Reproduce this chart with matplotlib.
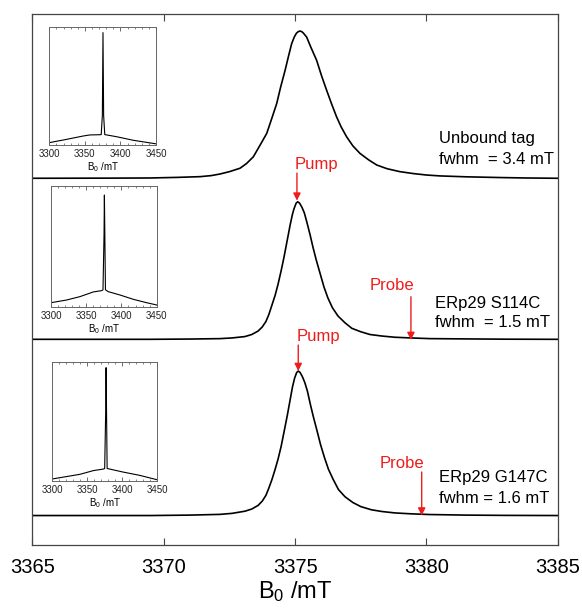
import matplotlib
matplotlib.use('Agg')
import matplotlib.pyplot as plt
from matplotlib.ticker import MultipleLocator

plt.rcParams['font.family'] = ['Liberation Sans', 'DejaVu Sans']
plt.rcParams['mathtext.fontset'] = 'custom'
plt.rcParams['mathtext.rm'] = 'Liberation Sans'
plt.rcParams['mathtext.default'] = 'regular'

# main spectra, field in mT, intensity normalised to peak = 1
top_b = [3365.0, 3368.0, 3369.47, 3370.5, 3371.38, 3371.8, 3372.14, 3372.5, 3372.90, 3373.15,
         3373.41, 3373.65, 3373.92, 3374.1, 3374.30, 3374.45, 3374.62, 3374.75, 3374.87, 3374.97,
         3375.05, 3375.12, 3375.19, 3375.26, 3375.32, 3375.44, 3375.6, 3375.82, 3376.0, 3376.20,
         3376.4, 3376.58, 3376.75, 3376.96, 3377.2, 3377.47, 3377.8, 3378.11, 3378.5, 3378.99,
         3379.5, 3380.01, 3380.52, 3381.5, 3382.8, 3383.8, 3385.0]
top_i = [0.0, 0.001, 0.002, 0.006, 0.011, 0.018, 0.029, 0.045, 0.068, 0.10,
         0.146, 0.22, 0.305, 0.40, 0.508, 0.62, 0.734, 0.83, 0.915, 0.96,
         0.985, 0.996, 1.0, 0.995, 0.985, 0.959, 0.89, 0.801, 0.70, 0.598,
         0.50, 0.417, 0.35, 0.282, 0.22, 0.169, 0.125, 0.090, 0.065, 0.045,
         0.032, 0.022, 0.016, 0.010, 0.005, 0.002, 0.0]

mid_b = [3365.0, 3369.47, 3371.0, 3372.14, 3372.6, 3373.09, 3373.35, 3373.59, 3373.75, 3373.89,
         3374.0, 3374.12, 3374.24, 3374.35, 3374.47, 3374.58, 3374.7, 3374.81, 3374.9, 3374.96,
         3375.04, 3375.10, 3375.17, 3375.26, 3375.35, 3375.45, 3375.57, 3375.68, 3375.8, 3375.95,
         3376.1, 3376.25, 3376.42, 3376.63, 3376.9, 3377.16, 3377.5, 3377.85, 3378.3, 3378.80,
         3379.4, 3380.14, 3381.5, 3383.0, 3385.0]
mid_i = [0.0, 0.0, 0.002, 0.005, 0.01, 0.02, 0.035, 0.06, 0.09, 0.13,
         0.18, 0.25, 0.32, 0.40, 0.50, 0.60, 0.72, 0.83, 0.91, 0.95,
         0.99, 1.0, 0.99, 0.96, 0.92, 0.85, 0.76, 0.67, 0.58, 0.48,
         0.38, 0.30, 0.23, 0.17, 0.12, 0.08, 0.055, 0.035, 0.024, 0.015,
         0.01, 0.005, 0.003, 0.001, 0.0]

bot_b = [3365.0, 3369.5, 3371.0, 3372.14, 3372.6, 3373.09, 3373.35, 3373.59, 3373.75, 3373.89,
         3374.0, 3374.12, 3374.24, 3374.35, 3374.47, 3374.58, 3374.7, 3374.81, 3374.9, 3374.98,
         3375.06, 3375.12, 3375.19, 3375.28, 3375.37, 3375.47, 3375.58, 3375.70, 3375.83, 3375.97,
         3376.12, 3376.27, 3376.45, 3376.65, 3376.9, 3377.2, 3377.5, 3377.9, 3378.3, 3378.8,
         3379.4, 3380.1, 3381.5, 3383.0, 3385.0]
bot_i = [0.0, 0.0, 0.003, 0.008, 0.015, 0.03, 0.045, 0.07, 0.10, 0.14,
         0.19, 0.25, 0.32, 0.39, 0.48, 0.58, 0.69, 0.80, 0.89, 0.95,
         0.99, 1.0, 0.99, 0.96, 0.92, 0.86, 0.77, 0.68, 0.59, 0.49,
         0.40, 0.32, 0.25, 0.18, 0.13, 0.09, 0.062, 0.04, 0.028, 0.018,
         0.012, 0.007, 0.003, 0.001, 0.0]

# full field sweeps for the insets
ins_top_b = [3300, 3322, 3347.6, 3357, 3371, 3373.0, 3374.6, 3375.5, 3376.4, 3378, 3394.7, 3418, 3450]
ins_top_i = [0.02, 0.045, 0.076, 0.085, 0.087, 0.088, 0.25, 0.95, 0.25, 0.088, 0.07, 0.04, 0.01]

ins_mid_b = [3300, 3322, 3341, 3360, 3372, 3373.8, 3375.3, 3375.8, 3377.3, 3381, 3397.8, 3416.8, 3435.7, 3450]
ins_mid_i = [0.033, 0.055, 0.083, 0.122, 0.133, 0.14, 0.6, 0.925, 0.14, 0.125, 0.097, 0.061, 0.033, 0.014]

ins_bot_b = [3300, 3339.5, 3358.6, 3372.9, 3374.8, 3376.3, 3376.8, 3378.3, 3382, 3401, 3425, 3450]
ins_bot_i = [0.017, 0.056, 0.087, 0.10, 0.105, 0.6, 0.95, 0.105, 0.10, 0.075, 0.047, 0.01]

labels = [('Unbound tag', 'fwhm  = 3.4 mT'),
          ('ERp29 S114C', 'fwhm  = 1.5 mT'),
          ('ERp29 G147C', 'fwhm = 1.6 mT')]

pump_b = [3375.07, 3375.12]
probe_b = [3379.41, 3379.82]

fig = plt.figure(figsize=(5.82, 6.08), dpi=100)
ax = fig.add_axes([0.0558, 0.1036, 0.9025, 0.8734])

# vertical offsets / scales of the stacked traces
offsets = [2.334, 1.2195, 0.0]
scales = [1.019, 0.952, 1.0]
spectra = [(top_b, top_i), (mid_b, mid_i), (bot_b, bot_i)]
for (b, i), off, sc in zip(spectra, offsets, scales):
    ax.plot(b, [off + sc * v for v in i], color='black', lw=1.2)

ax.set_xlim(3365, 3385)
ax.set_ylim(-0.204, 3.471)
ax.set_yticks([])
ax.set_xticks([3365, 3370, 3375, 3380, 3385])
ax.tick_params(axis='x', direction='in', top=True, length=5, width=0.8,
               labelsize=14.5, pad=9, color='#444444')
for s in ax.spines.values():
    s.set_color('#444444')
    s.set_linewidth(0.9)
ax.set_xlabel('B$_0$ /mT', fontsize=17, labelpad=2)

# sample labels
label_x = [3380.48, 3380.33, 3380.48]
label_y = [(2.610, 2.467), (1.464, 1.339), (0.260, 0.121)]
for (l1, l2), x, (y1, y2) in zip(labels, label_x, label_y):
    ax.text(x, y1, l1, fontsize=12, va='center', ha='left')
    ax.text(x, y2, l2, fontsize=12, va='center', ha='left')

# pump / probe markers
red = '#ee1c1c'
arr = dict(arrowstyle='-|>', color=red, lw=1.0, mutation_scale=11, shrinkA=0, shrinkB=0)
pump_y = [(2.426, 2.370, 2.179), (1.242, 1.180, 1.000)]
for x, (ty, y0, y1) in zip(pump_b, pump_y):
    ax.text(x - 0.08, ty, 'Pump', color=red, fontsize=12, va='center', ha='left')
    ax.annotate('', xy=(x, y1), xytext=(x, y0), arrowprops=arr)
probe_text_x = [3377.85, 3378.23]
probe_y = [(1.590, 1.514, 1.215), (0.363, 0.301, 0.0)]
for x, tx, (ty, y0, y1) in zip(probe_b, probe_text_x, probe_y):
    ax.text(tx, ty, 'Probe', color=red, fontsize=12, va='center', ha='left')
    ax.annotate('', xy=(x, y1), xytext=(x, y0), arrowprops=arr)

# insets
inset_pos = [[0.0847, 0.7615, 0.1833, 0.1946],
             [0.0876, 0.4956, 0.1816, 0.1985],
             [0.0899, 0.2089, 0.1804, 0.1962]]
inset_data = [(ins_top_b, ins_top_i), (ins_mid_b, ins_mid_i), (ins_bot_b, ins_bot_i)]
for pos, (b, i) in zip(inset_pos, inset_data):
    ia = fig.add_axes(pos)
    ia.plot(b, i, color='black', lw=0.8)
    ia.set_xlim(3300, 3450)
    ia.set_ylim(0, 1)
    ia.set_yticks([])
    ia.set_xticks([3300, 3350, 3400, 3450])
    ia.xaxis.set_minor_locator(MultipleLocator(10))
    ia.tick_params(axis='x', which='both', direction='in', top=True,
                   labelsize=7, pad=3, color='#555555', labelcolor='#222222')
    ia.tick_params(axis='x', which='major', length=3, width=0.6)
    ia.tick_params(axis='x', which='minor', length=1.5, width=0.5)
    for s in ia.spines.values():
        s.set_color('#666666')
        s.set_linewidth(0.7)
    ia.set_xlabel('B$_0$ /mT', fontsize=7, labelpad=1)

fig.savefig('out.png', dpi=100)
